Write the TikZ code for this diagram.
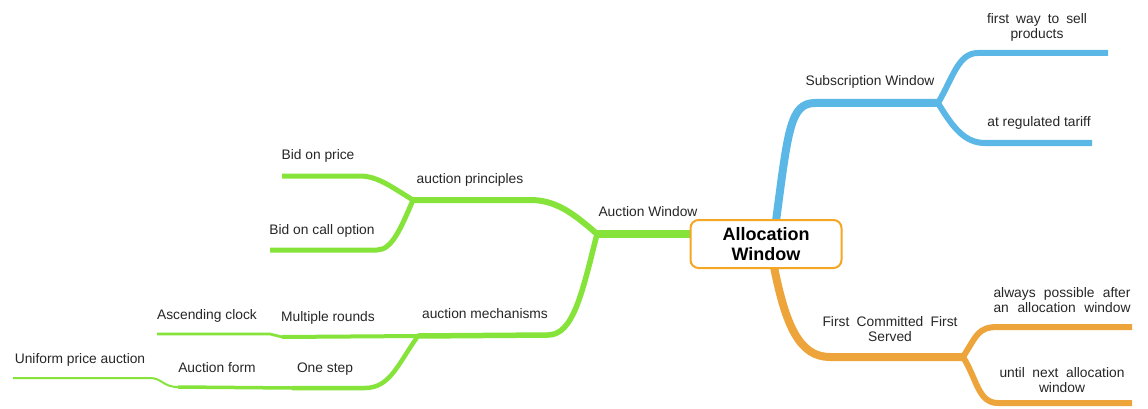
\documentclass[tikz,border=0pt]{standalone}
\usepackage{fontspec}
\setmainfont{Liberation Sans}
\definecolor{subcol}{HTML}{5BB8E6}
\definecolor{fccol}{HTML}{EDA43A}
\definecolor{awcol}{HTML}{85E33A}
\definecolor{rootcol}{HTML}{F5A623}
\newcommand{\spreadline}[2]{\makebox[#1][s]{#2}}
\begin{document}
\begin{tikzpicture}[x=1pt, y=-1pt, font=\fontsize{13.8}{15}\selectfont,
  every node/.style={inner sep=0pt, align=center, text=black!85},
  twig/.style={line width=#1},
  root/.style={draw=rootcol, fill=white, line width=2pt, rounded corners=8pt,
    minimum width=151pt, minimum height=48pt, text=black,
    font=\fontsize{18}{20}\selectfont\bfseries}]
  \useasboundingbox (0,0) rectangle (1148,409);
  \coordinate (sub0) at (776,221);
  \coordinate (sub1) at (815,103);
  \coordinate (sub) at (938,103);
  \coordinate (way0) at (978,53);
  \coordinate (way) at (1108,53);
  \coordinate (tar0) at (985,143);
  \coordinate (tar) at (1092,143);
  \coordinate (fc0) at (774,267);
  \coordinate (fc1) at (830,357);
  \coordinate (fc) at (963,357);
  \coordinate (aft0) at (998,327);
  \coordinate (aft) at (1132,327);
  \coordinate (nxt0) at (998,403);
  \coordinate (nxt) at (1132,403);
  \coordinate (aw0) at (691,234);
  \coordinate (aw) at (597,234);
  \coordinate (pr1) at (530,200);
  \coordinate (pr) at (413,200);
  \coordinate (bp1) at (360,176);
  \coordinate (bp) at (282,176);
  \coordinate (bc1) at (377,250);
  \coordinate (bc) at (270,250);
  \coordinate (me1) at (548,335);
  \coordinate (me) at (418,336);
  \coordinate (mr) at (282,337);
  \coordinate (ac1) at (270,334);
  \coordinate (ac) at (157,334);
  \coordinate (os1) at (365,388);
  \coordinate (os) at (292,388);
  \coordinate (af) at (178,387);
  \coordinate (un1) at (150,378);
  \coordinate (un) at (13,378);
  \draw[subcol, twig=8pt] (sub0) .. controls +(12,-90) and +(-25,0) .. (sub1) -- (sub);
  \draw[subcol, twig=6pt] (sub) .. controls +(15,-25) and +(-20,0) .. (way0) -- (way);
  \draw[subcol, twig=6pt] (sub) .. controls +(15,25) and +(-20,0) .. (tar0) -- (tar);
  \draw[fccol, twig=8pt] (fc0) .. controls +(12,60) and +(-30,0) .. (fc1) -- (fc);
  \draw[fccol, twig=6pt] (fc) .. controls +(14,-22) and +(-20,0) .. (aft0) -- (aft);
  \draw[fccol, twig=6pt] (fc) .. controls +(14,22) and +(-20,0) .. (nxt0) -- (nxt);
  \draw[awcol, twig=7.5pt] (aw0) -- (aw);
  \draw[awcol, twig=6pt] (aw) .. controls +(-25,-22) and +(25,0) .. (pr1) -- (pr);
  \draw[awcol, twig=5pt] (pr) .. controls +(-20,-12) and +(18,0) .. (bp1) -- (bp);
  \draw[awcol, twig=5pt] (pr) .. controls +(-12,28) and +(15,0) .. (bc1) -- (bc);
  \draw[awcol, twig=5.5pt] (aw) .. controls +(-15,60) and +(25,0) .. (me1) -- (me);
  \draw[awcol, twig=4pt] (me) -- (mr);
  \draw[awcol, twig=2.7pt] (mr) -- (ac1) -- (ac);
  \draw[awcol, twig=4.5pt] (me) .. controls +(-20,28) and +(25,0) .. (os1) -- (os);
  \draw[awcol, twig=3.5pt] (os) -- (af);
  \draw[awcol, twig=2pt] (af) .. controls +(-15,0) and +(12,0) .. (un1) -- (un);
  \node[root] (alloc) at (766,244) {Allocation\\Window};
  \node (subl) at (870,82) {Subscription Window};
  \node (wayl) at (1037,27) {\spreadline{100pt}{first way to sell}\\products};
  \node (tarl) at (1039,123) {at regulated tariff};
  \node (fcl) at (890,329) {\spreadline{135pt}{First Committed First}\\Served};
  \node (aftl) at (1062,300) {\spreadline{137pt}{always possible after}\\\spreadline{137pt}{an allocation window}};
  \node (nxtl) at (1062,380) {\spreadline{125pt}{until next allocation}\\window};
  \node (awl) at (648,212) {Auction Window};
  \node (prl) at (470,180) {auction principles};
  \node (bpl) at (318,156) {Bid on price};
  \node (bcl) at (322,231) {Bid on call option};
  \node (mel) at (485,314) {auction mechanisms};
  \node (mrl) at (328,318) {Multiple rounds};
  \node (acl) at (207,316) {Ascending clock};
  \node (osl) at (325,369) {One step};
  \node (afl) at (217,368) {Auction form};
  \node (unl) at (80,360) {Uniform price auction};
\end{tikzpicture}
\end{document}
